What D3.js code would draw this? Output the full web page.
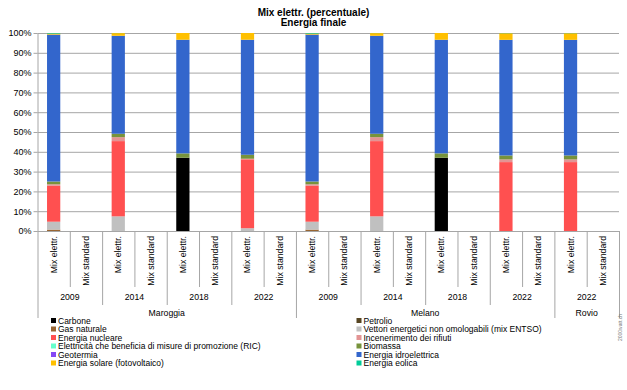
<!DOCTYPE html>
<html><head><meta charset="utf-8">
<script src="https://cdn.jsdelivr.net/npm/d3@7"></script>
<style>
body{margin:0;background:#fff;}
text{font-family:"Liberation Sans",Arial,sans-serif;fill:#000;}
</style></head>
<body><svg id="c" width="627" height="390"></svg>
<script>
// ---- data ----
const title1 = "Mix elettr. (percentuale)";
const title2 = "Energia finale";
const regions = ["Maroggia","Melano","Rovio"];
const regionYears = [["2009","2014","2018","2022"],["2009","2014","2018","2022"],["2022"]];
const mixTypes = ["Mix elettr.","Mix standard"];
const yTicks = [0,10,20,30,40,50,60,70,80,90,100];

const seriesNames = ["Carbone","Petrolio","Gas naturale","Vettori energetici non omologabili (mix ENTSO)","Energia nucleare","Incenerimento dei rifiuti","Elettricità che beneficia di misure di promozione (RIC)","Biomassa","Geotermia","Energia idroelettrica","Energia solare (fotovoltaico)","Energia eolica"];
const seriesColors = ["#000000","#574522","#996633","#c0c0c0","#ff5050","#e39494","#66ffcc","#77933c","#8447f5","#3366cc","#ffc000","#00cc99"];

// values per column (Mix elettr., Mix standard) for each year group, in order
const carbone      = [0,null, 0,null, 37,null, 0,null,    0,null, 0,null, 37,null, 0,null,    0,null];
const petrolio     = [0,null, 0,null, 0,null, 0,null,     0,null, 0,null, 0,null, 0,null,     0,null];
const gas          = [0.7,null, 0,null, 0,null, 0,null,   0.7,null, 0,null, 0,null, 0,null,   0,null];
const vettori      = [4.0,null, 7.4,null, 0,null, 1.4,null, 4.0,null, 7.4,null, 0,null, 0,null, 0,null];
const nucleare     = [18.1,null, 38,null, 0,null, 34.8,null, 18.1,null, 38,null, 0,null, 34.8,null, 34.8,null];
const incener      = [0.8,null, 2.0,null, 0,null, 0.3,null, 0.8,null, 2.0,null, 0,null, 1.35,null, 1.35,null];
const ric          = [0,null, 0,null, 0,null, 0,null,     0,null, 0,null, 0,null, 0,null,     0,null];
const biomassa     = [1.4,null, 1.7,null, 2.2,null, 2.0,null, 1.4,null, 1.7,null, 2.2,null, 2.0,null, 2.0,null];
const geotermia    = [0,null, 0,null, 0,null, 0,null,     0,null, 0,null, 0,null, 0,null,     0,null];
const idro         = [74.2,null, 49.5,null, 57.4,null, 58.1,null, 74.2,null, 49.5,null, 57.4,null, 58.4,null, 58.4,null];
const solare       = [0.5,null, 1.35,null, 3.4,null, 3.4,null, 0.5,null, 1.35,null, 3.4,null, 3.3,null, 3.3,null];
const eolica       = [0.3,null, 0.05,null, 0,null, 0,null, 0.3,null, 0.05,null, 0,null, 0.1,null, 0.1,null];
const seriesValues = [carbone,petrolio,gas,vettori,nucleare,incener,ric,biomassa,geotermia,idro,solare,eolica];
const watermark = "2000watt.ch";

// ---- build columns ----
const columns = [];
regions.forEach((r,ri)=>regionYears[ri].forEach(y=>mixTypes.forEach(m=>columns.push({region:r,year:y,mix:m}))));
const rows = columns.map((c,i)=>{const o={i}; seriesNames.forEach((s,k)=>o[s]=seriesValues[k][i]||0); return o;});

const svg = d3.select("#c");
const L=37.5, R=619, T=33, B=231;
const x = d3.scaleBand().domain(d3.range(columns.length)).range([L,R]).padding(0);
const y = d3.scaleLinear().domain([0,100]).range([B,T]);
const grid = "#a6a6a6";

// title
svg.append("text").attr("x",313.5).attr("y",16).attr("text-anchor","middle").attr("font-size",10).attr("font-weight","bold").text(title1);
svg.append("text").attr("x",313.5).attr("y",25.5).attr("text-anchor","middle").attr("font-size",10).attr("font-weight","bold").text(title2);

// gridlines + y axis
const ya = svg.append("g").attr("transform",`translate(${L},0)`)
  .call(d3.axisLeft(y).tickValues(yTicks).tickFormat(d=>d+"%").tickSizeInner(-(R-L)).tickSizeOuter(0).tickPadding(6));
ya.select(".domain").remove();
ya.selectAll(".tick line").attr("stroke",grid).attr("stroke-width",1);
ya.selectAll(".tick text").attr("font-size",9).attr("font-family","Liberation Sans, Arial, sans-serif").attr("fill","#000");
ya.selectAll(".tick").append("line").attr("x1",-4).attr("x2",0).attr("stroke",grid);

// bars
const stack = d3.stack().keys(seriesNames)(rows);
const bw = x.bandwidth()*0.41;
svg.append("g").selectAll("g").data(stack).join("g").attr("fill",(d,i)=>seriesColors[i])
  .selectAll("rect").data(d=>d.filter(p=>p[1]-p[0]>0)).join("rect")
  .attr("x",p=>x(p.data.i)+(x.bandwidth()-bw)/2).attr("width",bw)
  .attr("y",p=>y(p[1])).attr("height",p=>y(p[0])-y(p[1]));

// category axis
const axisG = svg.append("g").attr("stroke",grid).attr("stroke-width",1);
axisG.append("line").attr("x1",L).attr("x2",R).attr("y1",B+0.5).attr("y2",B+0.5);
const lvl1=287, lvl2=305, lvl3=318;
for(let i=0;i<=columns.length;i++){
  const xx = (i<columns.length? x(i): R)+0.5;
  let bottom = lvl1;
  if(i===0||i===columns.length||columns[i].region!==columns[i-1].region) bottom=lvl3;
  else if(columns[i].year!==columns[i-1].year) bottom=lvl2;
  axisG.append("line").attr("x1",xx).attr("x2",xx).attr("y1",T).attr("y2",bottom)
    .attr("stroke",i===0?grid:grid).attr("display",(i===0||i===columns.length)?null:null)
    .attr("y1", (i===0)?T:B);
}
// mix labels
svg.append("g").selectAll("text").data(columns).join("text")
  .attr("transform",(d,i)=>`translate(${x(i)+x.bandwidth()/2+3},236) rotate(-90)`)
  .attr("text-anchor","end").attr("font-size",8.7).text(d=>d.mix);
// year labels
const yearGroups = d3.groups(columns.map((c,i)=>({...c,i})), d=>d.region+"|"+d.year);
yearGroups.forEach(([k,arr])=>{
  const cx = (x(arr[0].i)+x(arr[arr.length-1].i)+x.bandwidth())/2;
  svg.append("text").attr("x",cx).attr("y",300).attr("text-anchor","middle").attr("font-size",8.7).text(arr[0].year);
});
// region labels
d3.groups(columns.map((c,i)=>({...c,i})), d=>d.region).forEach(([r,arr])=>{
  const cx = (x(arr[0].i)+x(arr[arr.length-1].i)+x.bandwidth())/2;
  svg.append("text").attr("x",cx).attr("y",316).attr("text-anchor","middle").attr("font-size",8.7).text(r);
});

// legend
const leftItems = [0,2,4,6,8,10], rightItems=[1,3,5,7,9,11];
[[leftItems,51],[rightItems,356.5]].forEach(([items,lx])=>{
  items.forEach((k,j)=>{
    const cy = 320.5 + j*8.5;
    svg.append("rect").attr("x",lx).attr("y",cy-2.5).attr("width",5).attr("height",5).attr("fill",seriesColors[k]);
    svg.append("text").attr("x",lx+7).attr("y",cy+3).attr("font-size",8.5).text(seriesNames[k]);
  });
});

// watermark
svg.append("text").attr("transform","translate(622,341) rotate(-90)").attr("font-size",5).attr("fill","#666").style("fill","#777").text(watermark);
</script></body></html>
